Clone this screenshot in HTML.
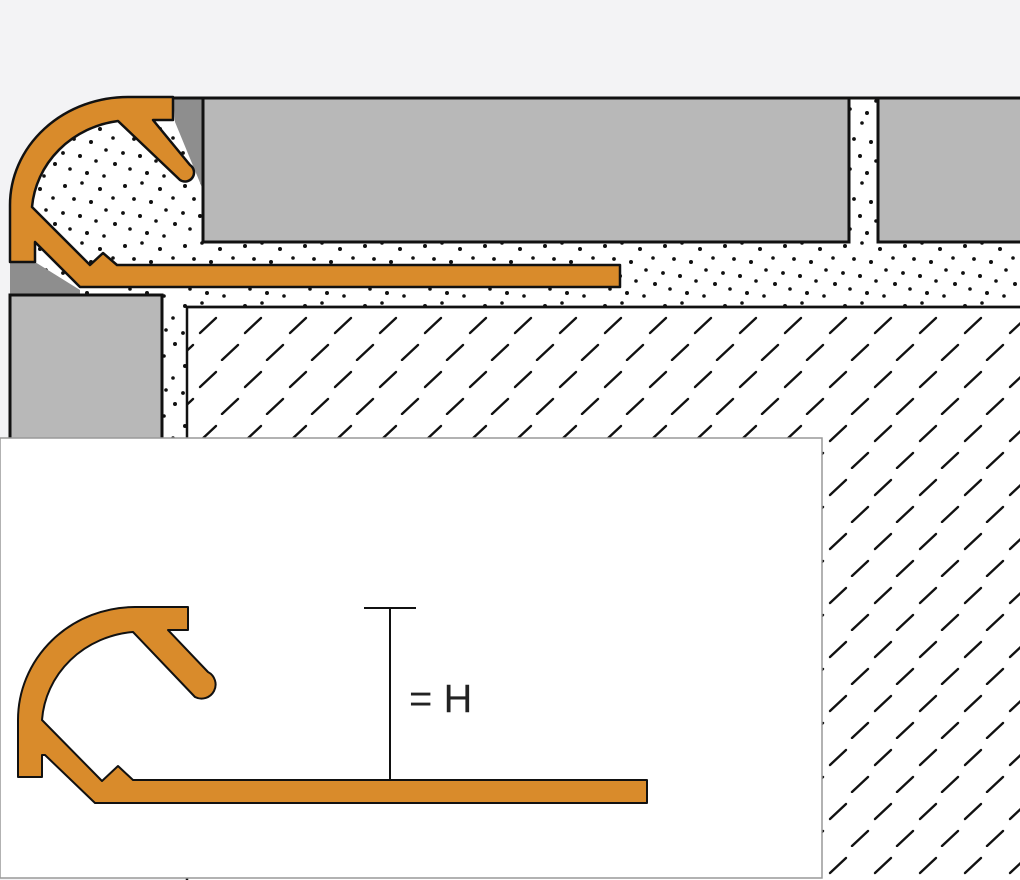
<!DOCTYPE html>
<html><head><meta charset="utf-8"><style>
html,body{margin:0;padding:0;background:#f3f3f5;}
svg{display:block}
</style></head><body>
<svg width="1020" height="880" viewBox="0 0 1020 880" xmlns="http://www.w3.org/2000/svg">
<defs>
<pattern id="dots" width="60" height="60" patternUnits="userSpaceOnUse">
<rect width="60" height="60" fill="#fff"/>
<g fill="#111">
<circle cx="5" cy="6" r="2"/><circle cx="22" cy="3" r="1.8"/><circle cx="40" cy="9" r="2"/><circle cx="53" cy="18" r="1.8"/>
<circle cx="14" cy="19" r="1.9"/><circle cx="31" cy="22" r="2"/><circle cx="46" cy="30" r="1.8"/><circle cx="3" cy="33" r="1.9"/>
<circle cx="20" cy="36" r="2"/><circle cx="36" cy="41" r="1.8"/><circle cx="55" cy="44" r="2"/><circle cx="10" cy="49" r="1.8"/>
<circle cx="27" cy="53" r="2"/><circle cx="44" cy="56" r="1.8"/>
</g>
</pattern>
<pattern id="hatch" width="45" height="54" patternUnits="userSpaceOnUse" x="187" y="307">
<rect width="45" height="54" fill="#fff"/>
<g stroke="#111" stroke-width="2.4" stroke-linecap="round">
<line x1="13" y1="26" x2="29" y2="11"/>
<line x1="35" y1="53" x2="51" y2="38"/>
<line x1="-10" y1="53" x2="6" y2="38"/>
</g>
</pattern>
</defs>
<rect width="1020" height="880" fill="#f3f3f5"/>
<path d="M128,98 H1020 V307 H187 V440 H162 V295 H10 V205 A118 107 0 0 1 128 98 Z" fill="url(#dots)"/>
<path d="M173,98 H203 V190 L175,122 Z" fill="#8e8e8e"/>
<path d="M10,262 H35 L80,290 V295 H10 Z" fill="#8e8e8e"/>
<rect x="203" y="98" width="646" height="144" fill="#b8b8b8" stroke="#111" stroke-width="3"/>
<rect x="878" y="98" width="150" height="144" fill="#b8b8b8" stroke="#111" stroke-width="3"/>
<rect x="10" y="295" width="152" height="150" fill="#b8b8b8" stroke="#111" stroke-width="3"/>
<line x1="128" y1="98" x2="1020" y2="98" stroke="#111" stroke-width="3"/>
<rect x="187" y="307" width="840" height="580" fill="url(#hatch)" stroke="#111" stroke-width="2.5"/>
<line x1="187" y1="307" x2="1020" y2="307" stroke="#111" stroke-width="2.5"/>
<path d="M128,97 H173 V120 H153 L190,165 A8 8 0 0 1 180,180 L118,121 A100 95 0 0 0 32,207 L90,265 L103,253 L117,265 H620 V287 H80 L35,242 V262 H10 V205 A118 108 0 0 1 128,97 Z" fill="#d98b2b" stroke="#111" stroke-width="2.5" stroke-linejoin="round"/>
<rect x="0" y="438" width="822" height="440" fill="#fff" stroke="#999" stroke-width="1.5"/>
<path d="M135,607 H188 V630 H168 L208,672 A10 10 0 0 1 195,697 L133,632 A100 95 0 0 0 42,720 L102,781 L118,766 L133,780 H647 V803 H95 L45,755 H42 V777 H18 V720 A117 113 0 0 1 135,607 Z" fill="#d98b2b" stroke="#111" stroke-width="2" stroke-linejoin="round"/>
<line x1="390" y1="608" x2="390" y2="780" stroke="#111" stroke-width="2"/>
<line x1="364" y1="608" x2="416" y2="608" stroke="#111" stroke-width="2"/>
<text x="409" y="712" font-family="Liberation Sans, sans-serif" font-size="40" fill="#222">= H</text>
</svg>
</body></html>
